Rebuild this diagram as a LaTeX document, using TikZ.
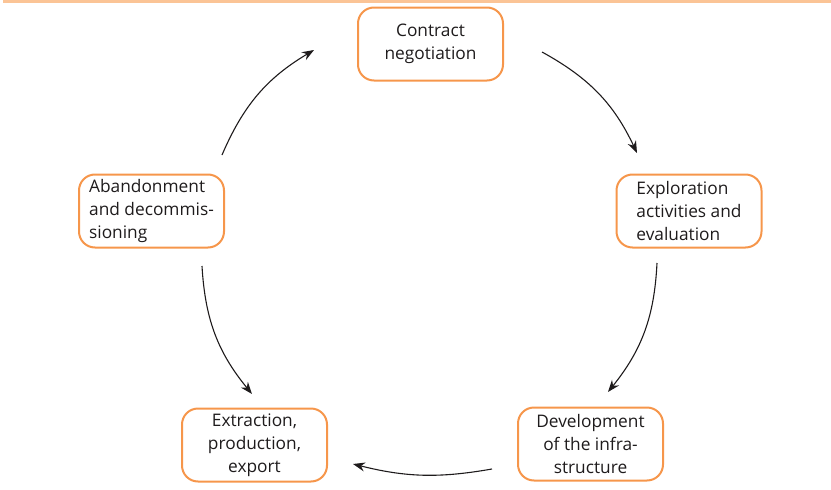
\documentclass[tikz,border=0pt]{standalone}
\usepackage{fontspec}
\setmainfont{Open Sans}
\usetikzlibrary{arrows.meta}
\definecolor{boxorange}{RGB}{246,150,75}
\definecolor{rulecol}{RGB}{251,196,150}
\definecolor{txt}{RGB}{30,27,28}
\tikzset{
  stage/.style={draw=boxorange, line width=2pt, rounded corners=16pt,
    minimum width=145pt, minimum height=73pt, inner sep=0pt,
    font=\fontsize{17.3}{23}\selectfont, text=txt},
  flow/.style={line width=1.1pt, draw=txt, -{Stealth[length=12pt,width=9pt]}}
}
\begin{document}
\begin{tikzpicture}[x=1pt,y=-1pt]
\useasboundingbox (0,0) rectangle (831,490);
\draw[rulecol, line width=2.2pt] (3,1.5) -- (831,1.5);
\node[stage, align=center] (con) at (430.5,44) {Contract\\negotiation};
\node[stage, align=left] (exp) at (689,211) {Exploration\\activities and\\evaluation};
\node[stage, align=left] (aba) at (151.5,211) {Abandonment\\and decommis-\\sioning};
\node[stage, align=center] (ext) at (254.5,445) {Extraction,\\production,\\export};
\node[stage, align=center] (dev) at (590.5,444) {Development\\of the infra-\\structure};
\coordinate (a1s) at (542,52);  \coordinate (a1e) at (637,153);
\coordinate (a2s) at (657,263); \coordinate (a2e) at (608,392);
\coordinate (a3s) at (492,469); \coordinate (a3e) at (353,464);
\coordinate (a4s) at (202,266); \coordinate (a4e) at (252,394);
\coordinate (a5s) at (222,155); \coordinate (a5e) at (314,50);
\draw[flow] (a1s) to[bend left=18] (a1e);
\draw[flow] (a2s) to[bend left=18] (a2e);
\draw[flow] (a3s) to[bend left=12] (a3e);
\draw[flow] (a4s) to[bend right=18] (a4e);
\draw[flow] (a5s) to[bend left=18] (a5e);
\end{tikzpicture}
\end{document}
